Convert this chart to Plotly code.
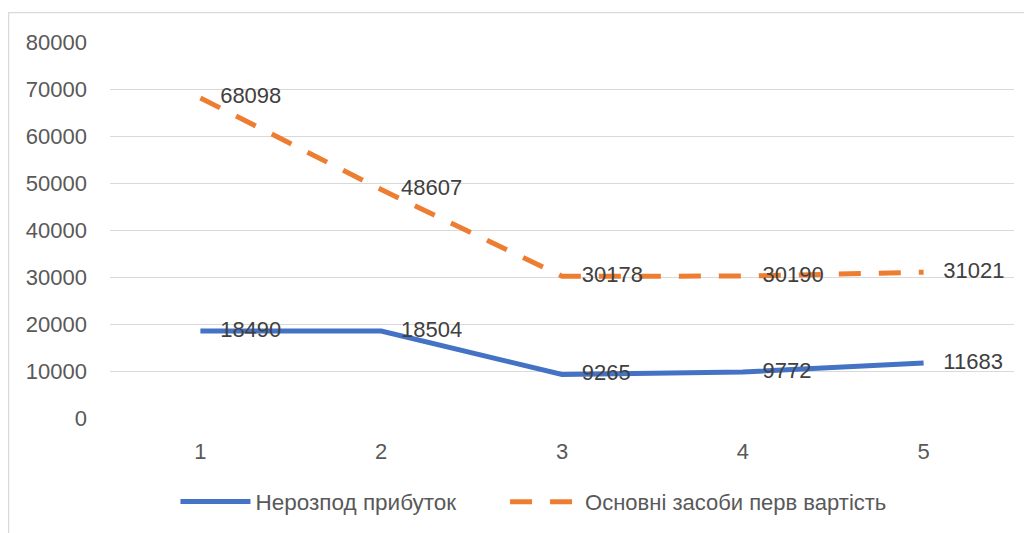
import plotly.graph_objects as go

categories = [1, 2, 3, 4, 5]
profit_name = "Нерозпод прибуток"
profit = [18490, 18504, 9265, 9772, 11683]
assets_name = "Основні засоби перв вартість"
assets = [68098, 48607, 30178, 30190, 31021]
y_ticks = [0, 10000, 20000, 30000, 40000, 50000, 60000, 70000, 80000]

FONT = "Liberation Sans"
LABEL_COLOR = "#404040"
AXIS_COLOR = "#595959"
FS = 22

fig = go.Figure()
fig.add_trace(go.Scatter(
    x=categories, y=profit, name=profit_name,
    mode="lines+markers+text",
    line=dict(color="#4472C4", width=5),
    marker=dict(size=30, color="rgba(0,0,0,0)"),
    text=[str(v) for v in profit], textposition="middle right",
    textfont=dict(family=FONT, size=FS, color=LABEL_COLOR),
    hoverinfo="skip", legend="legend",
))
fig.add_trace(go.Scatter(
    x=categories, y=assets, name=assets_name,
    mode="lines+markers+text",
    line=dict(color="#ED7D31", width=5, dash="22px,18px"),
    marker=dict(size=30, color="rgba(0,0,0,0)"),
    text=[str(v) for v in assets], textposition="middle right",
    textfont=dict(family=FONT, size=FS, color=LABEL_COLOR),
    hoverinfo="skip", legend="legend2",
))

leg_common = dict(orientation="h", y=-0.223, yanchor="middle", xanchor="left",
                  itemwidth=70, bgcolor="rgba(0,0,0,0)", borderwidth=0)

fig.update_layout(
    width=1024, height=525,
    margin=dict(l=101.5, r=17.5, t=34.3, b=114.7, autoexpand=False),
    paper_bgcolor="white", plot_bgcolor="white",
    font=dict(family=FONT, size=FS, color=AXIS_COLOR),
    showlegend=True,
    legend=dict(x=0.0724, font=dict(family=FONT, size=22.5, color=AXIS_COLOR), **leg_common),
    legend2=dict(x=0.437, font=dict(family=FONT, size=22, color=AXIS_COLOR), **leg_common),
    xaxis=dict(range=[0.5, 5.5], tickmode="array", tickvals=categories,
               ticktext=[str(c) for c in categories], showgrid=False, zeroline=False,
               showline=False, ticks="", ticklabelstandoff=18,
               tickfont=dict(family=FONT, size=FS, color=AXIS_COLOR)),
    yaxis=dict(range=[0, 80000], tickmode="array", tickvals=y_ticks,
               ticktext=[str(t) for t in y_ticks], showgrid=True, gridcolor="#D9D9D9",
               gridwidth=1.3, zeroline=False, showline=False, ticks="", ticklabelstandoff=22,
               tickfont=dict(family=FONT, size=FS, color=AXIS_COLOR)),
    shapes=[dict(type="rect", xref="paper", yref="paper", x0=-0.1122, x1=1.2,
                 y0=-0.6, y1=1.078, line=dict(color="#D9D9D9", width=1.3),
                 fillcolor="rgba(0,0,0,0)", layer="below")],
)

fig.write_html("out.html")
